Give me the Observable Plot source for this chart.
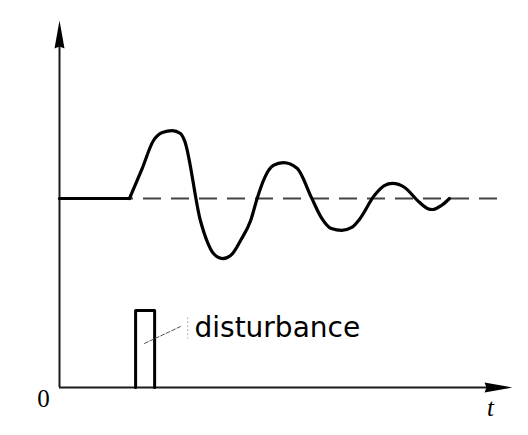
<!DOCTYPE html>
<html><head><meta charset="utf-8">
<script src="https://cdn.jsdelivr.net/npm/d3@7"></script>
<script src="https://cdn.jsdelivr.net/npm/@observablehq/plot@0.6"></script>
<style>html,body{margin:0;padding:0;background:#fff;}</style>
</head><body><div id="chart"></div>
<script>
// response curve (time, output); first segment is the steady state before the disturbance
const respT = [0, 1.545, 1.81, 2.075, 2.27, 2.49, 2.67, 2.76, 3.11, 3.27, 3.40, 3.60, 3.82, 4.00, 4.22, 4.37, 4.53, 4.72, 4.94, 5.25, 5.56, 5.78, 6.00, 6.23, 6.45, 6.62, 6.95, 7.17, 7.35, 7.62, 7.90, 8.12, 8.23, 8.43, 8.61];
const respY = [5.15, 5.15, 5.92, 6.73, 6.95, 7.00, 6.92, 6.73, 4.55, 3.95, 3.65, 3.51, 3.65, 4.01, 4.55, 5.18, 5.72, 6.05, 6.13, 5.97, 5.18, 4.63, 4.33, 4.28, 4.36, 4.58, 5.23, 5.50, 5.56, 5.45, 5.10, 4.88, 4.85, 4.96, 5.15];
// setpoint
const setpoint = 5.15;
const setpointEnd = 9.82;
// disturbance pulse
const pulseT = [1.68, 1.68, 2.10, 2.10];
const pulseY = [0, 2.10, 2.10, 0];
// annotation
const labelText = "disturbance";
const labelPos = [2.98, 1.61];
const leaderT = [1.876, 2.67];
const leaderY = [1.20, 1.66];
const tickT = [2.83, 2.83];
const tickY = [1.90, 1.34];
// axes
const axisMax = [10, 10];
const originLabel = "0";
const timeLabel = "t";

const resp = respT.map((t, i) => ({t, y: respY[i]}));
const steady = resp.slice(0, 2);
const transient = resp.slice(1);
const pulse = pulseT.map((t, i) => ({t, y: pulseY[i]}));
const leader = leaderT.map((t, i) => ({t, y: leaderY[i]}));
const tick = tickT.map((t, i) => ({t, y: tickY[i]}));

const arrowSym = {draw(ctx) { ctx.moveTo(0, 0); ctx.lineTo(-5, 28); ctx.lineTo(0, 26); ctx.lineTo(5, 28); ctx.closePath(); }};

const chart = Plot.plot({
  width: 528, height: 435,
  marginLeft: 59, marginRight: 16, marginTop: 20, marginBottom: 48,
  x: {domain: [0, axisMax[0]], axis: null},
  y: {domain: [0, axisMax[1]], axis: null},
  marks: [
    Plot.ruleY([0], {x1: 0, x2: axisMax[0] - 0.3, stroke: "#1a1a1a", strokeWidth: 2}),
    Plot.ruleX([0], {y1: 0, y2: axisMax[1] - 0.3, stroke: "#1a1a1a", strokeWidth: 2}),
    Plot.dot([{t: 0, y: axisMax[1]}], {x: "t", y: "y", symbol: arrowSym, fill: "#000", stroke: "none"}),
    Plot.dot([{t: axisMax[0], y: 0}], {x: "t", y: "y", symbol: arrowSym, rotate: 90, fill: "#000", stroke: "none"}),
    Plot.ruleY([setpoint], {x1: 0, x2: setpointEnd, stroke: "#444", strokeWidth: 2, strokeDasharray: "18,10"}),
    Plot.line(steady, {x: "t", y: "y", stroke: "#000", strokeWidth: 3.2, strokeLinecap: "round"}),
    Plot.line(transient, {x: "t", y: "y", curve: "monotone-x", stroke: "#000", strokeWidth: 3.2, strokeLinejoin: "round", strokeLinecap: "round"}),
    Plot.line(pulse, {x: "t", y: "y", stroke: "#000", strokeWidth: 3, strokeLinejoin: "round"}),
    Plot.line(leader, {x: "t", y: "y", stroke: "#555", strokeWidth: 1, strokeDasharray: "4,2"}),
    Plot.line(tick, {x: "t", y: "y", stroke: "#aaa", strokeWidth: 1, strokeDasharray: "1,3"}),
    Plot.text([labelText], {x: labelPos[0], y: labelPos[1], textAnchor: "start", fontSize: 28, fontFamily: "DejaVu Sans", fill: "#000"}),
    Plot.text([originLabel], {x: 0, y: 0, dx: -16, dy: 11, fontSize: 25, fontFamily: "Liberation Serif", fill: "#000"}),
    Plot.text([timeLabel], {x: axisMax[0], y: 0, dx: -22, dy: 20, fontSize: 25, fontStyle: "italic", fontFamily: "Liberation Serif", fill: "#000"})
  ]
});
document.getElementById("chart").appendChild(chart);
</script>
</body></html>
